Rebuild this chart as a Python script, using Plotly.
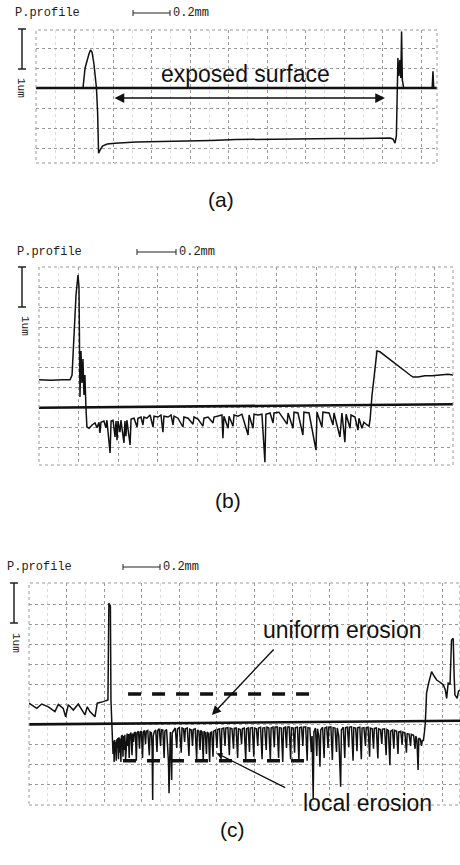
import plotly.graph_objects as go

# ---------------- DATA (x in mm, y in um) ----------------
prof_a = [(0.000, 0.00), (0.244, 0.00), (0.255, 0.50), (0.265, 0.70), (0.275, 0.85), (0.283, 0.95),
          (0.291, 0.90), (0.301, 0.60), (0.309, 0.30), (0.314, 0.00), (0.320, -0.60), (0.325, -1.63),
          (0.333, -1.55), (0.345, -1.45), (0.370, -1.40), (0.410, -1.38), (0.520, -1.35), (0.650, -1.34),
          (0.780, -1.32), (0.910, -1.31), (1.040, -1.29), (1.170, -1.28), (1.300, -1.27), (1.430, -1.27),
          (1.560, -1.26), (1.690, -1.26), (1.800, -1.25), (1.840, -1.25), (1.855, -1.28), (1.865, -1.38),
          (1.872, -1.20), (1.875, 0.00), (1.880, 0.75), (1.885, 0.30), (1.890, 0.70), (1.895, 0.25),
          (1.899, 1.41), (1.903, 0.20), (1.910, 0.00), (2.058, 0.00), (2.062, 0.42), (2.066, 0.00),
          (2.083, 0.00)]
base_a_x = [0.0, 2.083]
base_a_y = [0.0, 0.0]

prof_b = [(0.000, 0.68), (0.060, 0.67), (0.120, 0.68), (0.157, 0.68), (0.167, 0.80), (0.177, 1.80),
          (0.187, 2.80), (0.197, 3.30), (0.202, 3.00), (0.207, 0.25), (0.212, 1.40), (0.217, 0.60),
          (0.222, 1.20), (0.227, 0.30), (0.232, 0.80), (0.237, 0.00), (0.242, -0.50), (0.253, -0.53),
          (0.268, -0.45), (0.283, -0.40), (0.293, -0.52), (0.303, -0.38), (0.308, -0.65), (0.313, -0.38),
          (0.328, -0.35), (0.338, -0.52), (0.343, -0.33), (0.359, -1.15), (0.364, -0.35), (0.374, -0.33),
          (0.384, -0.75), (0.389, -0.35), (0.394, -0.83), (0.399, -0.35), (0.409, -0.63), (0.414, -0.33),
          (0.429, -0.90), (0.434, -0.35), (0.439, -0.73), (0.444, -0.33), (0.460, -0.95), (0.465, -0.30),
          (0.480, -0.28), (0.495, -0.50), (0.500, -0.28), (0.515, -0.25), (0.525, -0.45), (0.530, -0.25),
          (0.545, -0.28), (0.561, -0.20), (0.576, -0.50), (0.581, -0.23), (0.601, -0.25), (0.616, -0.20),
          (0.626, -0.63), (0.631, -0.23), (0.652, -0.25), (0.667, -0.20), (0.677, -0.45), (0.682, -0.23),
          (0.702, -0.28), (0.727, -0.50), (0.732, -0.25), (0.753, -0.28), (0.778, -0.43), (0.783, -0.25),
          (0.803, -0.30), (0.828, -0.48), (0.833, -0.28), (0.854, -0.25), (0.879, -0.40), (0.884, -0.25),
          (0.904, -0.23), (0.924, -0.20), (0.929, -0.78), (0.934, -0.23), (0.955, -0.53), (0.960, -0.23),
          (0.980, -0.48), (0.985, -0.20), (1.005, -0.23), (1.025, -0.18), (1.056, -0.70), (1.061, -0.20),
          (1.081, -0.53), (1.086, -0.18), (1.106, -0.20), (1.126, -0.18), (1.141, -1.38), (1.146, -0.18),
          (1.167, -0.15), (1.182, -0.40), (1.187, -0.15), (1.212, -0.13), (1.253, -0.43), (1.258, -0.15),
          (1.283, -0.53), (1.288, -0.13), (1.308, -0.15), (1.333, -0.70), (1.338, -0.13), (1.364, -0.15),
          (1.399, -1.08), (1.404, -0.13), (1.429, -0.50), (1.434, -0.13), (1.465, -0.15), (1.485, -0.45),
          (1.490, -0.15), (1.520, -0.75), (1.530, -0.15), (1.545, -0.88), (1.551, -0.18), (1.571, -0.53),
          (1.576, -0.20), (1.596, -0.25), (1.611, -0.58), (1.616, -0.28), (1.631, -0.53), (1.641, -0.38),
          (1.657, -0.45), (1.667, -0.48), (1.672, -0.33), (1.677, 0.00), (1.682, 0.30), (1.692, 0.73),
          (1.702, 1.25), (1.707, 1.40), (1.722, 1.38), (1.747, 1.28), (1.773, 1.18), (1.798, 1.08),
          (1.823, 0.98), (1.848, 0.90), (1.874, 0.80), (1.889, 0.75), (1.914, 0.75), (1.949, 0.78),
          (1.985, 0.78), (2.025, 0.80), (2.066, 0.82), (2.091, 0.80)]
base_b_x = [0.0, 2.091]
base_b_y = [-0.02, 0.07]

prof_c = [(0.000, 0.52), (0.041, 0.39), (0.068, 0.50), (0.103, 0.43), (0.138, 0.31), (0.156, 0.49),
          (0.182, 0.39), (0.195, 0.18), (0.209, 0.48), (0.236, 0.35), (0.262, 0.50), (0.298, 0.23),
          (0.310, 0.43), (0.324, 0.31), (0.351, 0.18), (0.363, 0.52), (0.395, 0.56), (0.413, 0.60),
          (0.420, 0.60), (0.425, 3.02), (0.433, 2.95), (0.436, 0.60), (0.440, 0.00), (0.444, -0.35),
          (0.447, -0.75), (0.450, -0.42), (0.453, -0.95), (0.456, -0.40), (0.459, -0.70), (0.461, -0.45),
          (0.464, -0.92), (0.467, -0.38), (0.470, -0.60), (0.473, -0.35), (0.476, -0.88), (0.479, -0.33),
          (0.483, -0.72), (0.486, -0.36), (0.489, -0.95), (0.492, -0.30), (0.497, -0.28), (0.500, -0.82),
          (0.503, -0.30), (0.507, -0.65), (0.510, -0.27), (0.514, -0.90), (0.518, -0.28), (0.522, -0.24),
          (0.526, -0.55), (0.529, -0.25), (0.533, -0.85), (0.537, -0.26), (0.543, -0.22), (0.548, -0.78),
          (0.552, -0.24), (0.556, -0.45), (0.560, -0.22), (0.566, -0.20), (0.571, -0.92), (0.575, -0.22),
          (0.582, -0.18), (0.588, -0.62), (0.592, -0.20), (0.598, -0.18), (0.604, -0.85), (0.608, -0.20),
          (0.614, -0.16), (0.620, -0.50), (0.624, -0.18), (0.632, -0.16), (0.640, -0.78), (0.644, -0.20),
          (0.651, -0.22), (0.655, -0.60), (0.658, -1.90), (0.661, -0.30), (0.666, -0.20), (0.674, -0.15),
          (0.681, -0.70), (0.685, -0.16), (0.693, -0.12), (0.700, -0.55), (0.704, -0.14), (0.712, -0.15),
          (0.719, -0.85), (0.723, -0.18), (0.732, -0.14), (0.739, -0.62), (0.742, -0.95), (0.745, -1.73),
          (0.748, -0.30), (0.752, -0.20), (0.756, -0.70), (0.759, -1.40), (0.762, -0.22), (0.770, -0.14),
          (0.778, -0.10), (0.786, -0.60), (0.790, -0.12), (0.800, -0.09), (0.810, -0.72), (0.814, -0.10),
          (0.822, -0.12), (0.828, -0.45), (0.832, -0.12), (0.842, -0.10), (0.851, -0.80), (0.855, -0.13),
          (0.864, -0.15), (0.870, -0.55), (0.874, -0.14), (0.884, -0.12), (0.892, -0.88), (0.896, -0.15),
          (0.904, -0.18), (0.910, -0.65), (0.914, -0.16), (0.921, -0.20), (0.927, -0.92), (0.931, -0.18),
          (0.938, -0.22), (0.944, -0.75), (0.948, -0.20), (0.955, -0.24), (0.961, -0.95), (0.965, -0.22),
          (0.972, -0.20), (0.979, -0.82), (0.983, -0.18), (0.993, -0.15), (1.000, -0.60), (1.004, -0.14),
          (1.014, -0.12), (1.022, -0.88), (1.026, -0.12), (1.036, -0.10), (1.043, -0.55), (1.047, -0.10),
          (1.058, -0.09), (1.066, -0.78), (1.070, -0.10), (1.080, -0.12), (1.088, -0.62), (1.092, -0.11),
          (1.102, -0.10), (1.110, -0.85), (1.114, -0.12), (1.124, -0.14), (1.131, -0.50), (1.135, -0.12),
          (1.145, -0.10), (1.153, -0.92), (1.157, -0.12), (1.166, -0.10), (1.173, -0.70), (1.177, -0.10),
          (1.188, -0.09), (1.196, -0.82), (1.200, -0.10), (1.210, -0.12), (1.217, -0.55), (1.221, -0.10),
          (1.232, -0.08), (1.240, -0.88), (1.244, -0.10), (1.254, -0.09), (1.262, -0.65), (1.266, -0.08),
          (1.276, -0.10), (1.284, -0.90), (1.288, -0.10), (1.298, -0.08), (1.305, -0.58), (1.309, -0.08),
          (1.320, -0.07), (1.328, -0.85), (1.332, -0.09), (1.342, -0.10), (1.350, -0.95), (1.354, -0.10),
          (1.363, -0.08), (1.370, -0.60), (1.374, -0.08), (1.384, -0.07), (1.392, -0.88), (1.396, -0.09),
          (1.406, -0.10), (1.413, -0.72), (1.417, -0.09), (1.428, -0.08), (1.436, -0.90), (1.440, -0.09),
          (1.450, -0.08), (1.457, -0.55), (1.461, -0.08), (1.472, -0.07), (1.480, -0.92), (1.484, -0.09),
          (1.494, -0.10), (1.502, -0.70), (1.506, -0.30), (1.512, -1.86), (1.516, -0.20), (1.524, -0.10),
          (1.531, -0.80), (1.535, -0.12), (1.542, -0.30), (1.548, -1.07), (1.552, -0.15), (1.562, -0.08),
          (1.570, -0.85), (1.574, -0.10), (1.584, -0.08), (1.591, -0.60), (1.595, -0.08), (1.606, -0.07),
          (1.614, -0.90), (1.618, -0.09), (1.628, -0.10), (1.636, -0.70), (1.640, -0.10), (1.648, -0.30),
          (1.654, -0.95), (1.658, -1.57), (1.662, -0.15), (1.672, -0.08), (1.680, -0.85), (1.684, -0.09),
          (1.694, -0.08), (1.701, -0.58), (1.705, -0.08), (1.716, -0.07), (1.724, -0.92), (1.728, -0.09),
          (1.738, -0.10), (1.745, -0.68), (1.749, -0.09), (1.760, -0.08), (1.768, -0.88), (1.772, -0.10),
          (1.782, -0.09), (1.790, -0.55), (1.794, -0.09), (1.804, -0.08), (1.812, -0.82), (1.816, -0.10),
          (1.826, -0.12), (1.833, -0.62), (1.837, -0.11), (1.848, -0.10), (1.856, -0.86), (1.860, -0.12),
          (1.870, -0.14), (1.877, -0.50), (1.881, -0.13), (1.892, -0.12), (1.900, -0.78), (1.904, -0.14),
          (1.912, -0.16), (1.917, -0.70), (1.920, -1.03), (1.924, -0.18), (1.934, -0.15), (1.941, -0.62),
          (1.945, -0.16), (1.956, -0.18), (1.963, -0.75), (1.967, -0.20), (1.978, -0.18), (1.985, -0.52),
          (1.989, -0.20), (2.000, -0.22), (2.008, -0.72), (2.012, -0.24), (2.022, -0.25), (2.030, -0.55),
          (2.034, -0.26), (2.046, -0.28), (2.054, -0.62), (2.058, -0.30), (2.064, -0.40), (2.070, -1.15),
          (2.074, -0.35), (2.082, -0.38), (2.088, -0.55), (2.093, -0.40), (2.098, -0.42),
          (2.104, -0.20), (2.108, 0.00), (2.112, 0.40), (2.115, 0.77), (2.125, 1.00),
          (2.135, 1.20), (2.142, 1.31), (2.155, 1.20), (2.169, 1.10), (2.185, 1.05), (2.204, 0.98),
          (2.215, 0.85), (2.222, 0.64), (2.230, 1.02), (2.240, 1.00), (2.248, 2.10), (2.257, 2.14),
          (2.262, 1.20), (2.266, 0.73), (2.278, 0.64), (2.285, 0.82), (2.293, 0.85)]
base_c_x = [0.0, 2.293]
base_c_y = [-0.01, 0.08]

# reference levels drawn as dashed lines in (c)
uniform_level_x = [0.527, 1.511]
uniform_level_y = [0.75, 0.75]
local_level_x = [0.500, 1.511]
local_level_y = [-0.92, -0.92]

labels = ["(a)", "(b)", "(c)"]

# ---------------- LAYOUT HELPERS ----------------
W, H = 460, 865
def fx(p): return p / W
def fy(p): return 1 - p / H

panels = [
    dict(n="", xd=(36, 437), yd=(30, 163), xr=[0, 2.083], yr=[-1.875, 1.45]),
    dict(n="2", xd=(39, 453), yd=(267, 465), xr=[0, 2.091], yr=[-1.45, 3.5]),
    dict(n="3", xd=(29, 460), yd=(583, 805), xr=[0, 2.293], yr=[-2.025, 3.525]),
]

fig = go.Figure()

def add_line(pts_x, pts_y, n, width, dash=None):
    fig.add_trace(go.Scatter(x=pts_x, y=pts_y, mode="lines", xaxis="x" + n, yaxis="y" + n,
                             line=dict(color="#111111", width=width, dash=dash),
                             hoverinfo="skip", showlegend=False))

for prof, bx, by, p in [(prof_a, base_a_x, base_a_y, panels[0]),
                        (prof_b, base_b_x, base_b_y, panels[1]),
                        (prof_c, base_c_x, base_c_y, panels[2])]:
    add_line(bx, by, p["n"], 2.6)
    add_line([q[0] for q in prof], [q[1] for q in prof], p["n"], 1.5)

add_line(uniform_level_x, uniform_level_y, "3", 3.5, dash="13px,11px")
add_line(local_level_x, local_level_y, "3", 3.5, dash="13px,11px")

layout = dict(width=W, height=H, margin=dict(l=0, r=0, t=0, b=0),
              paper_bgcolor="white", plot_bgcolor="white", showlegend=False)
shapes = []
annotations = []
for i, p in enumerate(panels):
    n = p["n"]
    layout["xaxis" + n] = dict(domain=[fx(p["xd"][0]), fx(p["xd"][1])], range=p["xr"],
                               anchor="y" + n, showticklabels=False, ticks="", zeroline=False,
                               showgrid=True, gridcolor="#999999", griddash="dot", gridwidth=1,
                               tick0=0, dtick=0.2, fixedrange=True,
                               minor=dict(dtick=0.1, showgrid=True, gridcolor="#dddddd",
                                          griddash="dot", gridwidth=1))
    layout["yaxis" + n] = dict(domain=[fy(p["yd"][1]), fy(p["yd"][0])], range=p["yr"],
                               anchor="x" + n, showticklabels=False, ticks="", zeroline=False,
                               showgrid=True, gridcolor="#999999", griddash="dot", gridwidth=1,
                               tick0=0, dtick=0.5, fixedrange=True)
    xr = "x" + n + " domain" if n else "x domain"
    yr = "y" + n + " domain" if n else "y domain"
    shapes.append(dict(type="rect", xref=xr, yref=yr, x0=0, x1=1, y0=0, y1=1,
                       line=dict(color="#999999", width=1, dash="dot")))

headers = [
    dict(ptx=13, pty=13, sb=(133, 170), sby=13, ub_x=22, ub=(29, 69), ulab=(21, 88)),
    dict(ptx=15, pty=252, sb=(137, 176), sby=252, ub_x=22, ub=(267, 307), ulab=(25, 326)),
    dict(ptx=5, pty=567, sb=(123, 160), sby=567, ub_x=14, ub=(583, 623), ulab=(16, 643)),
]
mono = "Liberation Mono"
for h in headers:
    annotations.append(dict(text="P.profile", x=fx(h["ptx"]), y=fy(h["pty"]), xref="paper", yref="paper",
                            xanchor="left", yanchor="middle", showarrow=False,
                            font=dict(family=mono, size=12, color="#222")))
    x0, x1 = h["sb"]
    shapes.append(dict(type="line", xref="paper", yref="paper", x0=fx(x0), x1=fx(x1),
                       y0=fy(h["sby"]), y1=fy(h["sby"]), line=dict(color="#222", width=1)))
    for xe in (x0, x1):
        shapes.append(dict(type="line", xref="paper", yref="paper", x0=fx(xe), x1=fx(xe),
                           y0=fy(h["sby"] - 3), y1=fy(h["sby"] + 3), line=dict(color="#222", width=1)))
    annotations.append(dict(text="0.2mm", x=fx(x1 + 1), y=fy(h["sby"]), xref="paper", yref="paper",
                            xanchor="left", yanchor="middle", showarrow=False,
                            font=dict(family=mono, size=12, color="#222")))
    ux = h["ub_x"]
    u0, u1 = h["ub"]
    shapes.append(dict(type="line", xref="paper", yref="paper", x0=fx(ux), x1=fx(ux),
                       y0=fy(u0), y1=fy(u1), line=dict(color="#222", width=1.5)))
    for ue in (u0, u1):
        shapes.append(dict(type="line", xref="paper", yref="paper", x0=fx(ux - 4), x1=fx(ux + 4),
                           y0=fy(ue), y1=fy(ue), line=dict(color="#222", width=1.5)))
    annotations.append(dict(text="1um", x=fx(h["ulab"][0]), y=fy(h["ulab"][1]), xref="paper", yref="paper",
                            xanchor="center", yanchor="middle", showarrow=False, textangle=90,
                            font=dict(family=mono, size=11, color="#222")))

for lab, (lx, ly) in zip(labels, [(221, 186), (228, 500), (233, 843)]):
    annotations.append(dict(text=lab, x=fx(lx), y=fy(ly), xref="paper", yref="paper",
                            showarrow=False, font=dict(family="Liberation Sans", size=21, color="#111")))

sans = dict(family="Liberation Sans", size=23, color="#111")
annotations.append(dict(text="exposed surface", x=1.09, y=0.36, xref="x", yref="y",
                        showarrow=False, font=sans))
annotations.append(dict(text="", x=1.813, y=-0.25, ax=0.40, ay=-0.25, xref="x", yref="y",
                        axref="x", ayref="y", showarrow=True, arrowhead=2, arrowside="end+start",
                        arrowsize=1.3, arrowwidth=1.5, arrowcolor="#111", standoff=0, startstandoff=0))
annotations.append(dict(text="uniform erosion", x=1.670, y=2.35, xref="x3", yref="y3",
                        showarrow=False, font=sans))
annotations.append(dict(text="", x=0.973, y=0.225, ax=1.309, ay=1.9, xref="x3", yref="y3",
                        axref="x3", ayref="y3", showarrow=True, arrowhead=2, arrowsize=1.3,
                        arrowwidth=1.4, arrowcolor="#111", standoff=0))
annotations.append(dict(text="local erosion", x=1.803, y=-1.975, xref="x3", yref="y3",
                        showarrow=False, font=sans))
annotations.append(dict(text="", x=0.998, y=-0.73, ax=1.371, ay=-1.61, xref="x3", yref="y3",
                        axref="x3", ayref="y3", showarrow=True, arrowhead=2, arrowsize=1.0,
                        arrowwidth=1.2, arrowcolor="#111", standoff=0))

layout["shapes"] = shapes
layout["annotations"] = annotations
fig.update_layout(**layout)
fig.write_html("out.html")
